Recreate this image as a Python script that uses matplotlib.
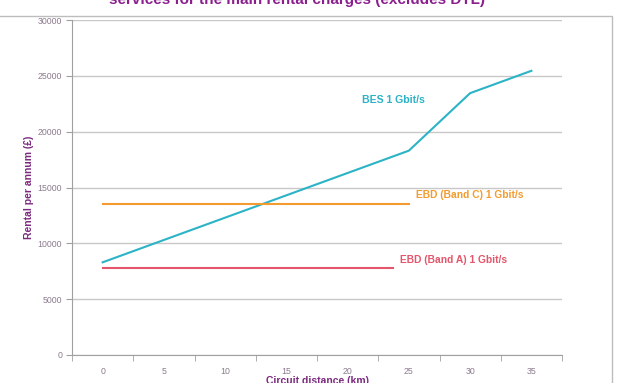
import matplotlib.pyplot as plt
import numpy as np
from matplotlib.patches import Rectangle

plt.rcParams['font.family'] = ['Liberation Sans', 'DejaVu Sans']

# data
bes_km = [0, 25, 30, 35]
bes_rent = [8300, 18300, 23450, 25450]
band_c_km = [0, 25]
band_c_rent = [13500, 13500]
band_a_km = [0, 23.7]
band_a_rent = [7800, 7800]
x_labels = [0, 5, 10, 15, 20, 25, 30, 35]

purple = '#7B2A7E'
tick_col = '#8C7A8E'
grid_col = '#C8C8C8'
teal = '#2BB3C6'
orange = '#F39B2E'
pink = '#E4566B'

fig = plt.figure(figsize=(6.17, 3.83), dpi=100)
ax = fig.add_axes([72 / 617, 1 - 355 / 383, 490 / 617, 335 / 383])

# chart area border
fig.patches.append(Rectangle((-0.01, -0.05), 612 / 617 + 0.01, 1 - 16 / 383 + 0.05,
                             transform=fig.transFigure, fill=False,
                             edgecolor='#BDBDBD', linewidth=1.0))

ax.plot(bes_km, bes_rent, color=teal, linewidth=1.5)
ax.plot(band_c_km, band_c_rent, color=orange, linewidth=1.5)
ax.plot(band_a_km, band_a_rent, color=pink, linewidth=1.5)

ax.text(21.2, 22800, 'BES 1 Gbit/s', color=teal, fontsize=7.6, fontweight='bold',
        ha='left', va='center')
ax.text(25.6, 14300, 'EBD (Band C) 1 Gbit/s', color=orange, fontsize=7.4,
        fontweight='bold', ha='left', va='center')
ax.text(24.3, 8500, 'EBD (Band A) 1 Gbit/s', color=pink, fontsize=7.4,
        fontweight='bold', ha='left', va='center')

ax.set_xlim(-2.5, 37.5)
ax.set_ylim(0, 30000)
ax.set_yticks(np.arange(0, 30001, 5000))
ax.set_xticks(x_labels)
ax.set_xticklabels([str(v) for v in x_labels])
ax.set_xticks(np.arange(-2.5, 37.6, 5), minor=True)
ax.tick_params(axis='x', which='major', length=0, pad=9, labelsize=6.3, labelcolor=tick_col)
ax.tick_params(axis='x', which='minor', length=4, color='#A0A0A0', direction='out')
ax.tick_params(axis='y', length=4, color='#A0A0A0', labelsize=6.3, labelcolor=tick_col, pad=3)

ax.grid(axis='y', color=grid_col, linewidth=1.0)
ax.set_axisbelow(True)
for side in ['top', 'right']:
    ax.spines[side].set_visible(False)
ax.spines['left'].set_color('#A0A0A0')
ax.spines['bottom'].set_color('#A0A0A0')

ax.set_ylabel('Rental per annum (£)', color=purple, fontsize=7.5, fontweight='bold',
              labelpad=3)
ax.set_xlabel('Circuit distance (km)', color=purple, fontsize=7.5, fontweight='bold',
              labelpad=0)

fig.text(297 / 617, 1.0, 'services for the main rental charges (excludes DTL)',
         color='#8B1F8E', fontsize=11, fontweight='bold', ha='center', va='center')

fig.savefig('out.png', dpi=100)
